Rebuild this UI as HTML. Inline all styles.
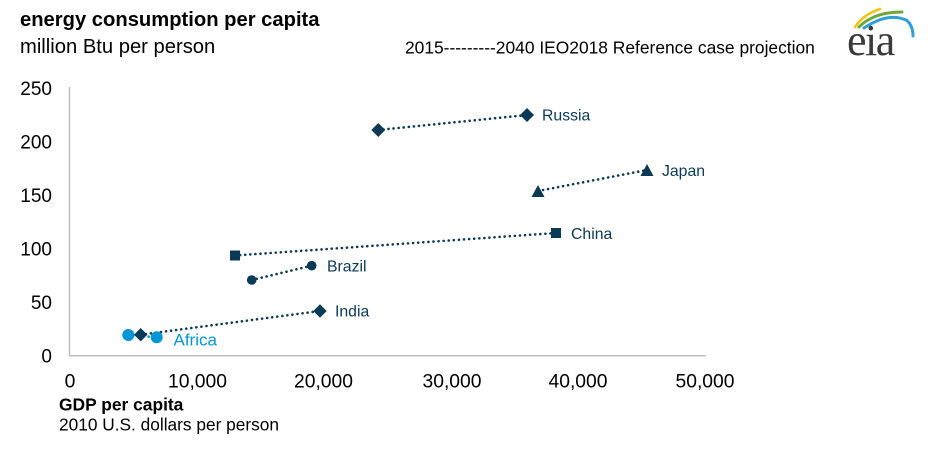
<!DOCTYPE html>
<html>
<head>
<meta charset="utf-8">
<style>
  html,body{margin:0;padding:0;background:#fff;}
  body{width:940px;height:461px;overflow:hidden;}
  svg{display:block;font-family:"Liberation Sans",Arial,sans-serif;}
</style>
</head>
<body>
<svg width="940" height="461" viewBox="0 0 940 461" xmlns="http://www.w3.org/2000/svg">
  <rect width="940" height="461" fill="#fff"/>
  <!-- titles -->
  <text x="20" y="26" font-size="20.2" font-weight="bold" fill="#000">energy consumption per capita</text>
  <text x="20" y="53" font-size="20.2" fill="#000">million Btu per person</text>
  <text x="405" y="53.5" font-size="17.4" fill="#000">2015---------2040 IEO2018 Reference case projection</text>

  <!-- eia logo -->
  <g fill="none" stroke-linecap="round">
    <path d="M855,27 Q864,14 880,9" stroke="#f2c416" stroke-width="2.6"/>
    <path d="M859,27 Q874,12 902,12" stroke="#6ea83a" stroke-width="3"/>
    <path d="M864,28 Q888,12 906,20 Q913,25 913,36" stroke="#2f9fd8" stroke-width="3"/>
  </g>
  <text x="847" y="55" font-family="'Liberation Serif',serif" font-size="44" fill="#3a3a3a" letter-spacing="-1.5">eia</text>

  <!-- axes -->
  <line x1="69.5" y1="87" x2="69.5" y2="356" stroke="#bfbfbf" stroke-width="1.5"/>
  <line x1="69" y1="355.7" x2="706" y2="355.7" stroke="#bfbfbf" stroke-width="1.5"/>

  <!-- y tick labels -->
  <g font-size="19" fill="#000" text-anchor="end">
    <text x="52" y="95">250</text>
    <text x="52" y="148.5">200</text>
    <text x="52" y="202">150</text>
    <text x="52" y="255.5">100</text>
    <text x="52" y="309">50</text>
    <text x="52" y="362.5">0</text>
  </g>
  <!-- x tick labels -->
  <g font-size="19.3" fill="#000" text-anchor="middle">
    <text x="70" y="387.5">0</text>
    <text x="197.5" y="387.5">10,000</text>
    <text x="323.5" y="387.5">20,000</text>
    <text x="452" y="387.5">30,000</text>
    <text x="578" y="387.5">40,000</text>
    <text x="705" y="387.5">50,000</text>
  </g>
  <text x="59" y="410.5" font-size="17.4" font-weight="bold" fill="#000">GDP per capita</text>
  <text x="59" y="430.5" font-size="17.3" fill="#000">2010 U.S. dollars per person</text>

  <!-- dotted connector lines -->
  <g fill="none" stroke="#0a3a55" stroke-width="2.6" stroke-linecap="round" stroke-dasharray="0.1 5">
    <line x1="378.3" y1="130" x2="527" y2="115"/>
    <line x1="538" y1="191" x2="647" y2="170"/>
    <line x1="235" y1="255.5" x2="556" y2="233"/>
    <line x1="251.7" y1="280" x2="311.7" y2="265.7"/>
    <line x1="140.7" y1="334.7" x2="320" y2="311"/>
  </g>
  <line x1="128.3" y1="335" x2="156.7" y2="337.3" stroke="#0096d6" stroke-width="2.6" stroke-linecap="round" stroke-dasharray="0.1 5"/>

  <!-- markers -->
  <g fill="#0a3a55">
    <!-- Russia diamonds -->
    <polygon points="378.3,123 385.3,130 378.3,137 371.3,130"/>
    <polygon points="527,108 534,115 527,122 520,115"/>
    <!-- Japan triangles -->
    <polygon points="538,185 544.5,197 531.5,197"/>
    <polygon points="647,164 653.5,176 640.5,176"/>
    <!-- China squares -->
    <rect x="230" y="250.5" width="10" height="10"/>
    <rect x="551" y="228" width="10" height="10"/>
    <!-- Brazil circles -->
    <circle cx="251.7" cy="280" r="4.8"/>
    <circle cx="311.7" cy="265.7" r="4.8"/>
    <!-- India diamonds -->
    <polygon points="320,304.3 326.7,311 320,317.7 313.3,311"/>
  </g>
  <!-- Africa circles -->
  <g fill="#0096d6">
    <circle cx="128.3" cy="335" r="6"/>
    <circle cx="156.7" cy="337.3" r="6"/>
  </g>
  <polygon points="140.7,328 147.4,334.7 140.7,341.4 134,334.7" fill="#0a3a55"/>

  <!-- series labels -->
  <g font-size="15.8" fill="#0a3a55">
    <text x="542" y="120.7">Russia</text>
    <text x="662" y="176">Japan</text>
    <text x="571" y="239">China</text>
    <text x="327" y="271.5">Brazil</text>
    <text x="335" y="316.5">India</text>
  </g>
  <text x="173.5" y="345.5" font-size="17" fill="#0096d6">Africa</text>
</svg>
</body>
</html>
